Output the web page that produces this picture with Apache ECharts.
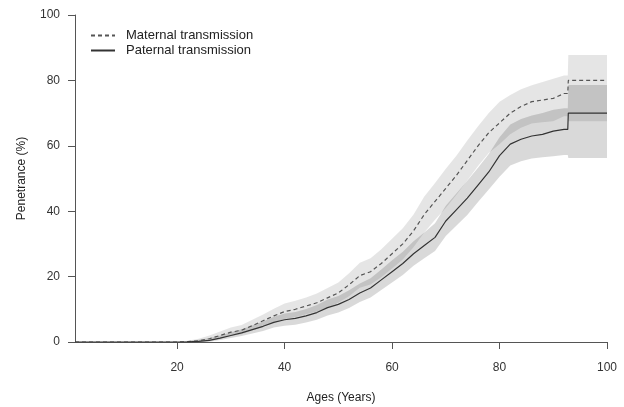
<!DOCTYPE html>
<html>
<head>
<meta charset="utf-8">
<script src="https://cdn.jsdelivr.net/npm/echarts@6/dist/echarts.min.js"></script>
<style>html,body{margin:0;padding:0;background:#fff;}#c{width:624px;height:407px;}</style>
</head>
<body>
<div id="c"></div>
<script>
const ages = [1, 20, 22, 24, 26, 28, 30, 32, 34, 36, 38, 40, 42, 44, 46, 48, 50, 52, 54, 56, 58, 60, 62, 64, 66, 68, 70, 72, 74, 76, 78, 80, 82, 84, 86, 88, 90, 92, 92.7, 92.8, 100];
const maternal = [0, 0, 0.1, 0.4, 1, 2, 3, 3.6, 5, 6.5, 8, 9.3, 10, 11, 12, 13.5, 15, 17.5, 20.3, 21.5, 24, 27, 30, 34, 39, 43, 47, 51, 55.5, 60, 64, 67, 70, 72, 73.5, 74, 74.5, 76, 76, 80, 80];
const paternal = [0, 0, 0.05, 0.2, 0.5, 1.2, 2, 2.8, 3.8, 4.8, 6, 6.8, 7.2, 8, 9, 10.5, 11.5, 13, 15, 16.5, 19, 21.5, 24, 27, 29.5, 32, 37, 40.5, 44, 48, 52, 57, 60.5, 62, 63, 63.5, 64.5, 65, 65, 70, 70];
const maternalLow = [0, 0, 0, 0, 0.3, 1, 1.8, 2.4, 3.5, 4.7, 6, 7, 7.6, 8.5, 9.3, 10.5, 12, 14, 16.6, 17.6, 19.8, 22.5, 25.2, 29, 33.5, 37.4, 41, 45, 49.4, 53.8, 57.8, 60.5, 63.5, 65.5, 66.8, 67.2, 67.5, 69, 69, 67.5, 67.5];
const maternalHigh = [0, 0, 0.4, 1, 2, 3.2, 4.4, 5.2, 6.8, 8.4, 10.2, 11.8, 12.6, 13.6, 14.8, 16.5, 18.2, 21, 24.2, 25.6, 28.4, 31.6, 34.8, 39, 44.5, 48.6, 53, 57, 61.6, 66, 70, 73.5, 75.5, 77.3, 78.5, 79.5, 80.5, 81.5, 81.5, 87.8, 87.8];
const paternalLow = [0, 0, 0, 0, 0.1, 0.6, 1.2, 1.8, 2.6, 3.4, 4.4, 5, 5.3, 6, 6.8, 8.1, 9, 10.4, 12.2, 13.6, 15.9, 18.2, 20.5, 23.3, 25.6, 27.8, 32.4, 35.6, 38.8, 42.8, 46.6, 50.5, 54, 55.3, 56.1, 56.5, 56.8, 57.2, 57.2, 56.3, 56.3];
const paternalHigh = [0, 0, 0.3, 0.7, 1.2, 2, 3, 3.9, 5.1, 6.3, 7.7, 8.7, 9.2, 10.1, 11.3, 13, 14.1, 15.8, 17.9, 19.5, 22.2, 25, 27.6, 30.8, 33.5, 36.3, 41.7, 45.5, 49.3, 53.3, 57.5, 62.6, 66.5, 68.2, 69.3, 70, 71, 71.5, 71.5, 78.6, 78.6];
const xTicks = [20, 40, 60, 80, 100];
const seriesNames = ['Maternal transmission', 'Paternal transmission'];

const pairs = arr => ages.map((a, i) => [a, arr[i]]);

const chart = echarts.init(document.getElementById('c'), null, {renderer: 'canvas'});
const font = 'Liberation Sans, Arial, sans-serif';
const axisCol = '#555';

function band(lo, hi, col) {
  return {
    type: 'custom', silent: true, z: 1, clip: true,
    data: [[ages[0], lo[0]]],
    encode: {x: 0, y: 1},
    renderItem: function (params, api) {
      const pts = [];
      for (let i = 0; i < ages.length; i++) pts.push(api.coord([ages[i], hi[i]]));
      for (let i = ages.length - 1; i >= 0; i--) pts.push(api.coord([ages[i], lo[i]]));
      return {type: 'polygon', shape: {points: pts}, style: {fill: col, stroke: null}};
    }
  };
}

chart.setOption({
  animation: false,
  grid: {left: 75, right: 17, top: 15, bottom: 65, containLabel: false, outerBoundsMode: 'none'},
  legend: {
    data: seriesNames, orient: 'vertical', left: 85, top: 24,
    itemWidth: 24, itemHeight: 14, itemGap: 2, itemStyle: {opacity: 0},
    textStyle: {fontFamily: font, fontSize: 13, color: '#222', padding: [0, 0, 0, 6]},
    selectedMode: false
  },
  xAxis: {
    type: 'value', min: 1, max: 100,
    name: 'Ages (Years)', nameLocation: 'middle', nameGap: 50,
    nameTextStyle: {fontFamily: font, fontSize: 12, color: '#222'},
    axisLine: {show: true, lineStyle: {color: axisCol, width: 1}},
    axisTick: {show: true, length: 7, customValues: xTicks, lineStyle: {color: axisCol}},
    axisLabel: {customValues: xTicks, margin: 20, fontFamily: font, fontSize: 12, color: '#333'},
    splitLine: {show: false}
  },
  yAxis: {
    type: 'value', min: 0, max: 100, interval: 20,
    name: 'Penetrance (%)', nameLocation: 'middle', nameGap: 47, nameRotate: 90,
    nameTextStyle: {fontFamily: font, fontSize: 12, color: '#222'},
    axisLine: {show: true, lineStyle: {color: axisCol, width: 1}},
    axisTick: {show: true, length: 7, lineStyle: {color: axisCol}},
    axisLabel: {margin: 15, fontFamily: font, fontSize: 12, color: '#333'},
    splitLine: {show: false}
  },
  series: [
    band(maternalLow, maternalHigh, 'rgba(0,0,0,0.10)'),
    band(paternalLow, paternalHigh, 'rgba(0,0,0,0.15)'),
    {name: seriesNames[0], type: 'line', data: pairs(maternal), symbol: 'none', z: 5,
      lineStyle: {color: '#555', width: 1.2, type: [4, 3]}, itemStyle: {color: '#555'}},
    {name: seriesNames[1], type: 'line', data: pairs(paternal), symbol: 'none', z: 5,
      lineStyle: {color: '#333', width: 1.2, type: 'solid'}, itemStyle: {color: '#333'}}
  ]
});
</script>
</body>
</html>
